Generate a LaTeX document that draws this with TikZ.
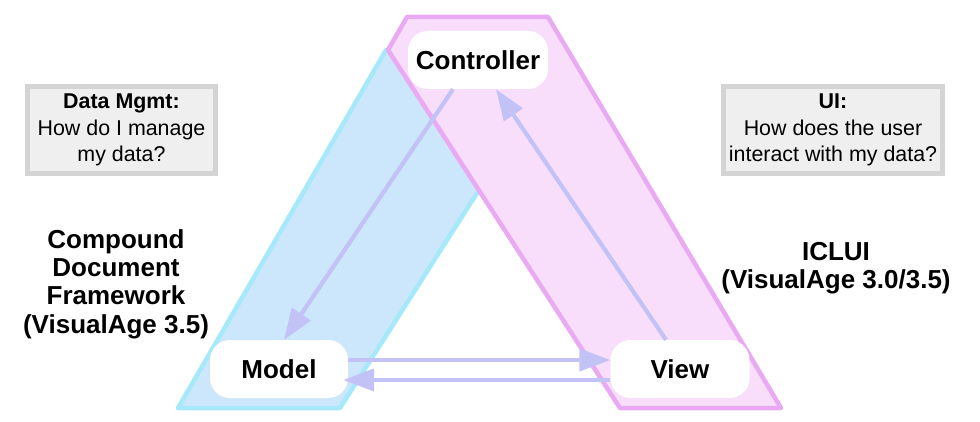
\documentclass[tikz,border=0pt]{standalone}
\usepackage{fontspec}
\setmainfont{Liberation Sans}
\usetikzlibrary{arrows.meta}
\definecolor{modelfill}{HTML}{CCE7FB}
\definecolor{modelline}{HTML}{A6E9FA}
\definecolor{viewfill}{HTML}{F8DEFB}
\definecolor{viewline}{HTML}{E9A9F3}
\definecolor{flowcolor}{HTML}{C2C2F7}
\definecolor{boxline}{HTML}{D4D4D4}
\definecolor{boxfill}{HTML}{EFEFEF}
\begin{document}
\begin{tikzpicture}[x=1pt,y=-1pt,
  part/.style={fill=white,rounded corners=20pt,minimum width=140pt,minimum height=58pt,inner sep=0pt,font=\fontsize{26}{28.3}\selectfont\bfseries},
  question/.style={draw=boxline,line width=5pt,fill=boxfill,align=center,inner sep=0pt,minimum height=87pt,font=\fontsize{21.4}{26.5}\selectfont},
  caption/.style={align=center,font=\fontsize{26}{28.3}\selectfont\bfseries},
  flow/.style={draw=flowcolor,line width=4.2pt,-{Triangle[length=31pt,width=22pt]}}]
\useasboundingbox (0,0) rectangle (980,422);
\def\modelband{(178,408) -- (340,408) -- (565,55) -- (386,50) -- cycle}
\def\viewband{(407,17) -- (548,17) -- (781,408) -- (620,408) -- (388,50) -- cycle}

% The two bands first, the pink one lies over the blue one:
\fill [modelfill] \modelband;
\draw [modelline, line width=4.5pt, line join=round] \modelband;
\fill [viewfill] \viewband;
\draw [viewline, line width=4.5pt, line join=round] \viewband;

\node [part] (ctrl) at (478,60) {Controller};
\node [part, minimum width=138pt] (model) at (279,369) {Model};
\node [part, minimum width=139pt] (view) at (680,369) {View};

% Connectors between the three parts:
\draw [flow] ([xshift=-25pt]ctrl.south) -- ([xshift=5pt]model.north);
\draw [flow] ([xshift=-14pt]view.north) -- ([xshift=18pt]ctrl.south);
\draw [flow] ([yshift=9pt]model.east) -- ([yshift=9pt]view.west);
\draw [flow] ([yshift=-11pt]view.west) -- ([yshift=-11pt,xshift=-5pt]model.east);

\node [question, minimum width=188pt] (datamgmt) at (121.5,130) {\textbf{Data Mgmt:}\\How do I manage\\my data?};
\node [question, minimum width=219pt] (ui) at (833,130) {\textbf{UI:}\\How does the user\\interact with my data?};

\node [caption] (cdf) at (116,284) {Compound\\Document\\Framework\\(VisualAge 3.5)};
\node [caption] (iclui) at (836,268) {ICLUI\\(VisualAge 3.0/3.5)};
\end{tikzpicture}
\end{document}
